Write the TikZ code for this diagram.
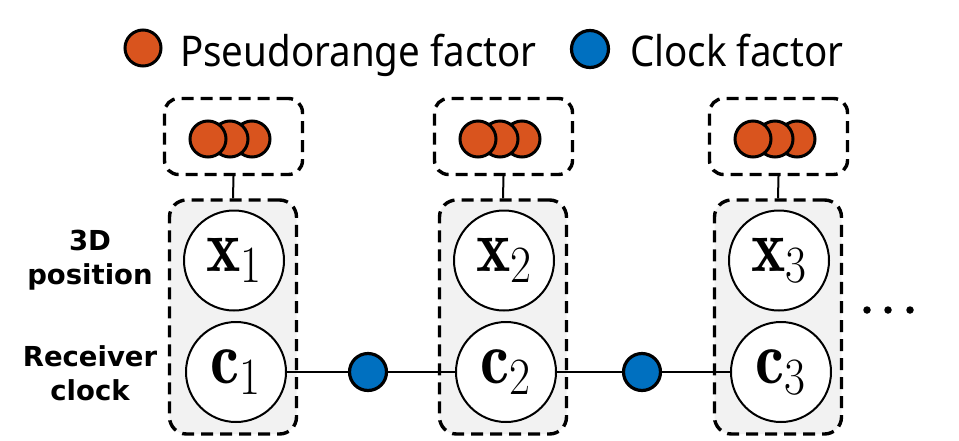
\RequirePackage{fix-cm}
\documentclass[tikz,border=0pt]{standalone}
\usepackage{fontspec}
\newfontfamily\legendfont{Noto Sans}
\newfontfamily\labelfont{DejaVu Sans}
\definecolor{porange}{RGB}{217,84,30}
\definecolor{cblue}{RGB}{0,112,192}
\definecolor{boxgray}{RGB}{242,242,242}
\newcommand{\varlabel}[1]{\scalebox{1}[1.15]{$#1$}}
\begin{document}
\begin{tikzpicture}[x=1pt,y=-1pt,
  groupbox/.style={draw, dash pattern=on 12pt off 7pt, line width=3.4pt, rounded corners=17pt, fill=boxgray, minimum width=127pt, minimum height=234pt, inner sep=0pt},
  factorbox/.style={draw, dash pattern=on 12pt off 7pt, line width=3.4pt, rounded corners=14pt, fill=white, minimum width=138pt, minimum height=76pt, inner sep=0pt},
  varnode/.style={circle, draw, line width=2pt, fill=white, minimum size=100pt, inner sep=0pt, font=\fontsize{65}{67}\selectfont},
  pfac/.style={circle, draw, line width=3pt, fill=porange, minimum size=36pt, inner sep=0pt},
  cfac/.style={circle, draw, line width=3.2pt, fill=cblue, minimum size=37pt, inner sep=0pt},
  link/.style={line width=2pt},
  sidelabel/.style={align=center, inner sep=0pt, font=\labelfont\bfseries\fontsize{27.5}{34}\selectfont},
  legendtext/.style={anchor=base west, inner sep=0pt, font=\legendfont\fontsize{38.5}{40}\selectfont},
  dotnode/.style={circle, fill=black, minimum size=7.5pt, inner sep=0pt}
]
\useasboundingbox (0,0) rectangle (959,440);

% legend
\node[pfac] (lp) at (143,48) {};
\node[legendtext] (lpt) at (180,66) {\scalebox{1}[1.1]{Pseudorange factor}};
\node[cfac] (lc) at (590,49) {};
\node[legendtext] (lct) at (630,66) {\scalebox{1}[1.1]{Clock factor}};

% side labels
\node[sidelabel] (lab3d) at (90,260) {3D\\position};
\node[sidelabel] (labclk) at (90,373) {Receiver\\clock};

% groups
\foreach \i/\X in {1/233,2/503,3/778}{
  \node[groupbox] (g\i) at (\X,317) {};
  \node[factorbox] (t\i) at (\X+0.5,136.5) {};
  \node[pfac] (p\i c) at (\X+19,139) {};
  \node[pfac] (p\i b) at (\X-3,139) {};
  \node[pfac] (p\i a) at (\X-25,139) {};
  \node[varnode] (x\i) at (\X+1,260.5) {\varlabel{\mathbf{x}_{\i}}};
  \node[varnode] (c\i) at (\X+3,372) {\varlabel{\mathbf{c}_{\i}}};
  \draw[link] (t\i.south) -- (g\i.north);
}

% clock factors
\node[cfac] (b1) at (368,372) {};
\node[cfac] (b2) at (642,372) {};
\draw[link] (c1) -- (b1) -- (c2) -- (b2) -- (c3);

% ellipsis
\node[dotnode] (d1) at (867,310) {};
\node[dotnode] (d2) at (888,310) {};
\node[dotnode] (d3) at (910,310) {};
\end{tikzpicture}
\end{document}
